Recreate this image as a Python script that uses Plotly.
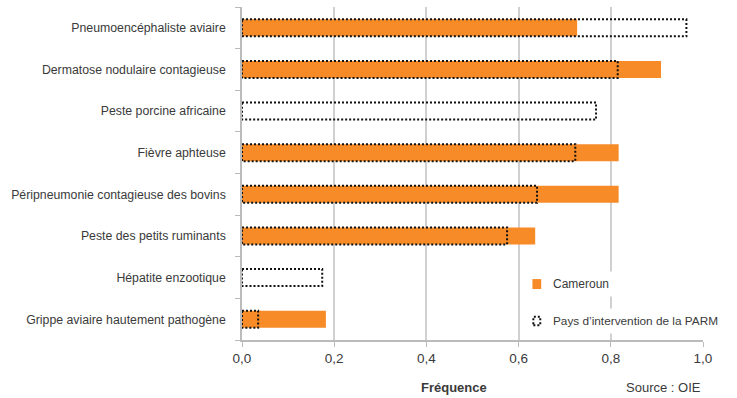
import plotly.graph_objects as go

categories = [
    "Pneumoencéphaliste aviaire",
    "Dermatose nodulaire contagieuse",
    "Peste porcine africaine",
    "Fièvre aphteuse",
    "Péripneumonie contagieuse des bovins",
    "Peste des petits ruminants",
    "Hépatite enzootique",
    "Grippe aviaire hautement pathogène",
]
cameroun = [0.727, 0.909, 0.0, 0.817, 0.817, 0.636, 0.0, 0.182]
parm = [0.964, 0.815, 0.768, 0.723, 0.640, 0.575, 0.174, 0.035]
x_ticks = [0.0, 0.2, 0.4, 0.6, 0.8, 1.0]
series_names = ["Cameroun", "Pays d’intervention de la PARM"]

ORANGE = "#F68B28"
TEXT = "#3A3A3A"
FONT = "Liberation Sans, Arial"
BAR_W = 0.41
DOT = "2px,2px"
pos = list(range(len(categories)))

fig = go.Figure()
fig.add_trace(go.Bar(
    y=pos, x=cameroun, orientation="h", width=BAR_W,
    marker=dict(color=ORANGE, line=dict(width=0)),
    name=series_names[0], showlegend=False,
))

# dotted outline rectangles for PARM, built from data
xs, ys = [], []
h = BAR_W / 2
for p, v in zip(pos, parm):
    xs += [0, v, v, 0, 0, None]
    ys += [p - h, p - h, p + h, p + h, p - h, None]
fig.add_trace(go.Scatter(
    x=xs, y=ys, mode="lines",
    line=dict(color="#111111", width=2, dash=DOT),
    name=series_names[1], showlegend=False, hoverinfo="skip",
))

fig.update_layout(
    width=737, height=398,
    margin=dict(l=242, r=34, t=7, b=58, autoexpand=False),
    plot_bgcolor="white", paper_bgcolor="white",
    barmode="overlay",
    separators=", ",
    font=dict(family=FONT, size=13, color=TEXT),
    showlegend=False,
)
fig.update_xaxes(
    range=[0, 1.0], tickvals=x_ticks, tickformat=".1f",
    showgrid=True, gridcolor="#D0D0D0", gridwidth=1.5,
    showline=True, linecolor="#BBBBBB", linewidth=1.5,
    ticks="outside", ticklen=5, tickcolor="#BBBBBB",
    tickfont=dict(size=13.5, color=TEXT), zeroline=False, automargin=False,
)
fig.update_yaxes(
    range=[len(categories) - 0.5, -0.5],
    tickvals=pos, ticktext=categories, ticks="",
    showline=True, linecolor="#BBBBBB", linewidth=1.5,
    showgrid=False, zeroline=False, automargin=False,
    tickfont=dict(size=12.3, color=TEXT), ticklabelstandoff=12,
    minor=dict(tickvals=[p - 0.5 for p in pos] + [len(categories) - 0.5],
               ticks="outside", ticklen=5, tickcolor="#BBBBBB", showgrid=False),
)

# legend (custom, to show the dotted square)
fig.add_shape(type="rect", xref="paper", yref="paper",
              x0=0.630, x1=0.649, y0=0.153, y1=0.183,
              fillcolor=ORANGE, line=dict(width=0), layer="above")
fig.add_shape(type="rect", xref="paper", yref="paper",
              x0=0.632, x1=0.647, y0=0.044, y1=0.070,
              fillcolor="rgba(0,0,0,0)", line=dict(color="#111111", width=2, dash=DOT),
              layer="above")
fig.add_annotation(text=series_names[0], xref="paper", yref="paper",
                   x=0.662, y=0.168, xanchor="left", yanchor="middle",
                   showarrow=False, bgcolor="white", borderpad=5,
                   font=dict(size=12, color=TEXT))
fig.add_annotation(text=series_names[1], xref="paper", yref="paper",
                   x=0.662, y=0.057, xanchor="left", yanchor="middle",
                   showarrow=False, bgcolor="white", borderpad=5,
                   font=dict(size=11.8, color=TEXT))

fig.add_annotation(text="<b>Fréquence</b>", xref="paper", yref="paper",
                   x=0.459, y=-0.144, showarrow=False, yanchor="middle",
                   font=dict(size=13, color=TEXT))
fig.add_annotation(text="Source : OIE", xref="paper", yref="paper",
                   x=1.0, y=-0.144, showarrow=False, xanchor="right", yanchor="middle",
                   font=dict(size=13, color=TEXT))

fig.write_html("out.html", config={"displayModeBar": False},
               post_script="document.body.style.margin='0';document.body.style.overflow='hidden';")
